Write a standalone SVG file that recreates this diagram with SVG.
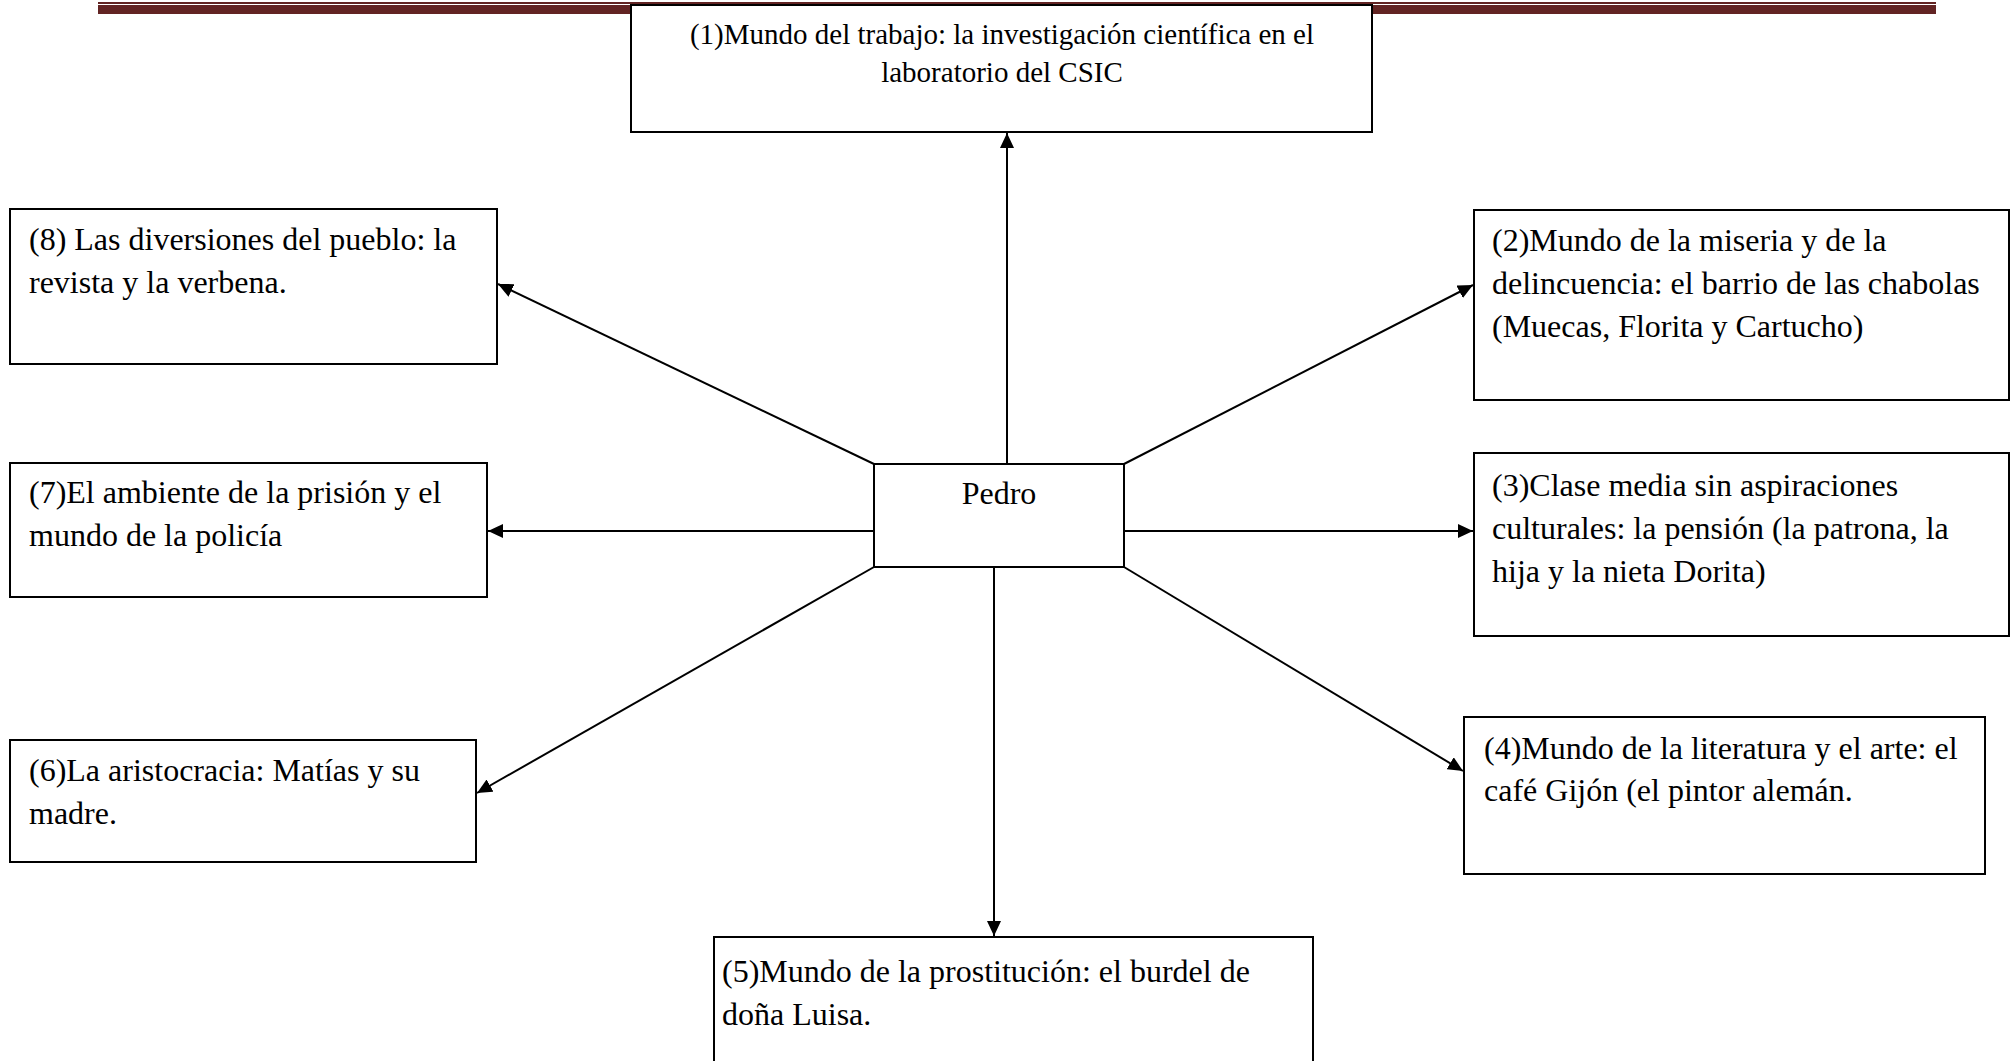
<svg xmlns="http://www.w3.org/2000/svg" width="2015" height="1061" viewBox="0 0 2015 1061">
  <style>
    .box { fill: #ffffff; stroke: #000000; stroke-width: 2; }
    .t { font-family: "Liberation Serif", "Times New Roman", serif; font-size: 32px; fill: #000000; }
    .t1 { font-family: "Liberation Serif", "Times New Roman", serif; font-size: 29px; fill: #000000; text-anchor: middle; }
    .c { stroke: #000000; stroke-width: 2; fill: none; marker-end: url(#arr); }
  </style>
  <defs>
    <marker id="arr" markerUnits="userSpaceOnUse" markerWidth="16" markerHeight="14" refX="15" refY="7" orient="auto">
      <path d="M0,0 L15,7 L0,14 z" fill="#000000"/>
    </marker>
  </defs>
  <rect width="2015" height="1061" fill="#ffffff"/>
  <g id="header">
    <rect x="98" y="2" width="1838" height="2" fill="#622423"/>
    <rect x="98" y="5" width="1838" height="9" fill="#622423"/>
  </g>
  <g id="connectors">
    <line class="c" x1="1007" y1="464" x2="1007" y2="133"/>
    <line class="c" x1="1124" y1="464" x2="1473" y2="285"/>
    <line class="c" x1="1124" y1="531" x2="1473" y2="531"/>
    <line class="c" x1="1124" y1="567" x2="1463" y2="771"/>
    <line class="c" x1="994" y1="567" x2="994" y2="936"/>
    <line class="c" x1="874" y1="567" x2="477" y2="793"/>
    <line class="c" x1="874" y1="531" x2="488" y2="531"/>
    <line class="c" x1="874" y1="464" x2="498" y2="284"/>
  </g>
  <g id="node1">
    <rect class="box" x="631" y="5" width="741" height="127"/>
    <text class="t1" x="1002" y="44">(1)Mundo del trabajo: la investigación científica en el</text>
    <text class="t1" x="1002" y="82">laboratorio del CSIC</text>
  </g>
  <g id="pedro">
    <rect class="box" x="874" y="464" width="250" height="103"/>
    <text class="t" x="999" y="504" text-anchor="middle">Pedro</text>
  </g>
  <g id="node2">
    <rect class="box" x="1474" y="210" width="535" height="190"/>
    <text class="t" x="1492" y="251">(2)Mundo de la miseria y de la</text>
    <text class="t" x="1492" y="294">delincuencia: el barrio de las chabolas</text>
    <text class="t" x="1492" y="337">(Muecas, Florita y Cartucho)</text>
  </g>
  <g id="node3">
    <rect class="box" x="1474" y="453" width="535" height="183"/>
    <text class="t" x="1492" y="496">(3)Clase media sin aspiraciones</text>
    <text class="t" x="1492" y="539">culturales: la pensión (la patrona, la</text>
    <text class="t" x="1492" y="582">hija y la nieta Dorita)</text>
  </g>
  <g id="node4">
    <rect class="box" x="1464" y="717" width="521" height="157"/>
    <text class="t" x="1484" y="759">(4)Mundo de la literatura y el arte: el</text>
    <text class="t" x="1484" y="801">café Gijón (el pintor alemán.</text>
  </g>
  <g id="node5">
    <rect class="box" x="714" y="937" width="599" height="140"/>
    <text class="t" x="722" y="982" font-size="33">(5)Mundo de la prostitución: el burdel de</text>
    <text class="t" x="722" y="1025" font-size="33">doña Luisa.</text>
  </g>
  <g id="node6">
    <rect class="box" x="10" y="740" width="466" height="122"/>
    <text class="t" x="29" y="781">(6)La aristocracia: Matías y su</text>
    <text class="t" x="29" y="824">madre.</text>
  </g>
  <g id="node7">
    <rect class="box" x="10" y="463" width="477" height="134"/>
    <text class="t" x="29" y="503">(7)El ambiente de la prisión y el</text>
    <text class="t" x="29" y="546">mundo de la policía</text>
  </g>
  <g id="node8">
    <rect class="box" x="10" y="209" width="487" height="155"/>
    <text class="t" x="29" y="250">(8) Las diversiones del pueblo: la</text>
    <text class="t" x="29" y="293">revista y la verbena.</text>
  </g>
</svg>
